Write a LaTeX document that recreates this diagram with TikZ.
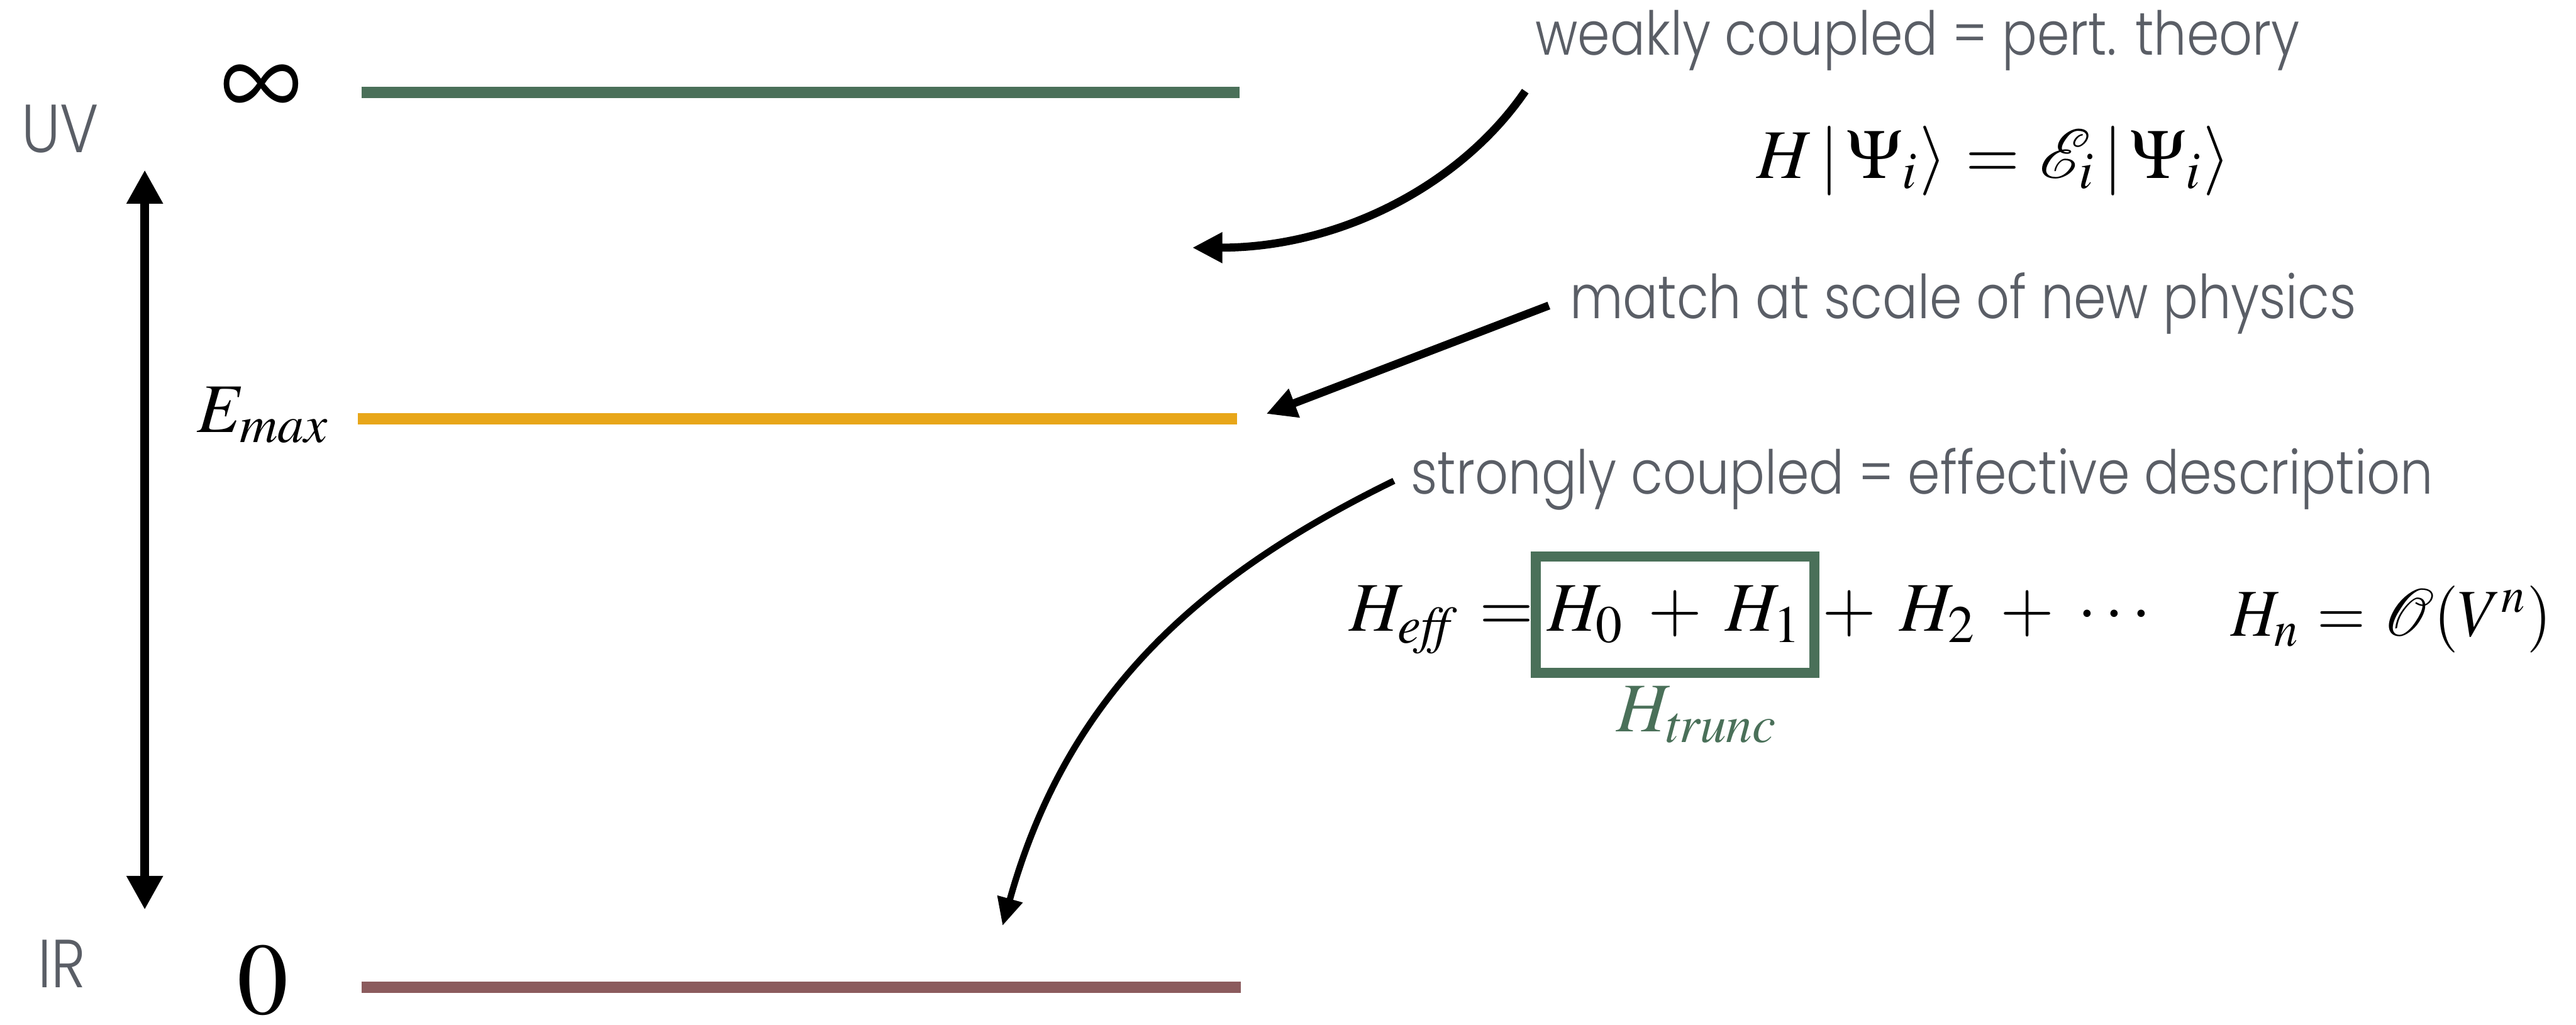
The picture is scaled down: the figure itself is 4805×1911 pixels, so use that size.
\documentclass[tikz,border=0pt]{standalone}
\usepackage{mathptmx}
\usepackage[no-math]{fontspec}
\usetikzlibrary{arrows.meta}
\newfontfamily\lblfont{Poppins Light}[FakeStretch=0.86]
\DeclareMathSizes{13}{13}{9.8}{7.5}
\DeclareMathSizes{12.5}{12.5}{9.4}{7.2}
\definecolor{lvgreen}{HTML}{4A7059}
\definecolor{lvorange}{HTML}{E8A619}
\definecolor{lvbrown}{HTML}{8B5B5D}
\definecolor{lblgray}{HTML}{5A5E66}
\tikzset{
  level/.style={line width=2.1pt},
  lbl/.style={font=\lblfont\fontsize{11.3}{13}\selectfont, text=lblgray, anchor=base west, inner sep=0pt},
  sidelbl/.style={font=\lblfont\fontsize{12.7}{15}\selectfont, text=lblgray, anchor=base west, inner sep=0pt},
  mth/.style={font={\fontsize{13}{15}\selectfont\medmuskip=6mu\thickmuskip=5mu}, anchor=base west, inner sep=0pt},
  arr/.style={line width=1.5pt, -{Triangle[length=5.6pt,width=5.4pt]}},
}
\begin{document}
\begin{tikzpicture}[x=0.1pt,y=-0.1pt]
\useasboundingbox (0,0) rectangle (4805,1911);
% energy levels
\coordinate (g1) at (674,172);  \coordinate (g2) at (2312,172);
\coordinate (o1) at (668,781);  \coordinate (o2) at (2308,781);
\coordinate (b1) at (674,1842); \coordinate (b2) at (2314,1842);
\draw[level, lvgreen] (g1) -- (g2);
\draw[level, lvorange] (o1) -- (o2);
\draw[level, lvbrown] (b1) -- (b2);
% level labels
\node[inner sep=0pt, font=\fontsize{20}{20}\selectfont] (inf) at (487,172) {\scalebox{1.05}[1.2]{$\infty$}};
\node[mth] (emax) at (366,806) {$E_{max}$};
\node[inner sep=0pt, font=\fontsize{19}{20}\selectfont] (zero) at (490,1830) {$0$};
% UV / IR
\node[sidelbl] (uv) at (38,285) {UV};
\node[sidelbl] (ir) at (69,1842) {IR};
\coordinate (vtop) at (270,317);
\coordinate (vbot) at (270,1697);
\draw[line width=1.6pt, {Triangle[length=6.3pt,width=6.4pt]}-{Triangle[length=6.3pt,width=6.4pt]}] (vtop) -- (vbot);
% annotations
\node[lbl] (weak) at (2862,103) {weakly coupled = pert. theory};
\node[lbl] (match) at (2926,594) {match at scale of new physics};
\node[lbl] (strong) at (2630,922) {strongly coupled = effective description};
\coordinate (weakstart) at (2845,170);
\coordinate (weakend) at (2224,462);
\draw[arr] (weakstart) .. controls (2725,345) and (2500,462) .. (weakend);
\coordinate (matchstart) at (2889,570);
\coordinate (matchend) at (2362,772);
\draw[arr] (matchstart) -- (matchend);
\coordinate (strongstart) at (2600,897);
\coordinate (strongend) at (1870,1727);
\draw[line width=1.2pt, -{Triangle[length=5.2pt,width=4.6pt]}] (strongstart) .. controls (2240,1073) and (1991,1293) .. (strongend);
% equations
\node[mth] (schr) at (3275,332) {$H\,|\,\Psi_i\rangle = \mathcal{E}_i\,|\,\Psi_i\rangle$};
\node[mth] (heff) at (2515,1177) {$H_{\mathit{eff}} =$};
\node[draw=lvgreen, line width=1.9pt, inner sep=0pt, minimum width=51.9pt, minimum height=21.7pt, font={\fontsize{13}{15}\selectfont\medmuskip=6mu}] (trunc) at (3124.5,1146.5) {$H_0 + H_1$};
\node[mth] (rest) at (3397,1177) {$+\mkern6mu H_2 + \cdots$};
\node[mth, font={\fontsize{12.5}{15}\selectfont\thickmuskip=5mu}] (hn) at (4159,1187) {\scalebox{0.93}[1]{$H_n = \mathcal{O}(V^n)$}};
\node[mth, text=lvgreen] (htrunc) at (3013,1365) {$H_{\mathit{trunc}}$};
\end{tikzpicture}
\end{document}
